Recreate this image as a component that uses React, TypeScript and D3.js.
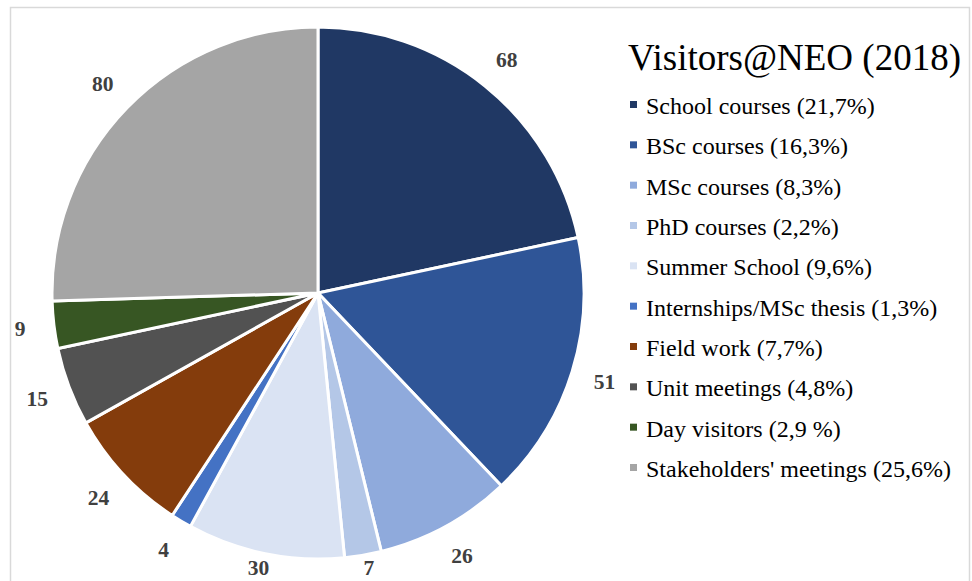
import React from "react";
import * as d3 from "d3";

const categories = [
  "School courses (21,7%)",
  "BSc courses (16,3%)",
  "MSc courses (8,3%)",
  "PhD courses (2,2%)",
  "Summer School (9,6%)",
  "Internships/MSc thesis (1,3%)",
  "Field work (7,7%)",
  "Unit meetings (4,8%)",
  "Day visitors (2,9 %)",
  "Stakeholders' meetings (25,6%)",
];
const values = [68, 51, 26, 7, 30, 4, 24, 15, 9, 80];
const colors = [
  "#203864",
  "#2f5597",
  "#8faadc",
  "#b4c7e7",
  "#dae3f3",
  "#4472c4",
  "#843c0c",
  "#525252",
  "#375623",
  "#a5a5a5",
];
const title = "Visitors@NEO (2018)";

export default function App() {
  const W = 972;
  const H = 581;
  const cx = 318;
  const cy = 293;
  const r = 266;
  const labelR = 300;
  const pie = d3.pie<number>().sort(null).value((d) => d)(values);
  const arc = d3.arc<d3.PieArcDatum<number>>().innerRadius(0).outerRadius(r);
  const labelArc = d3
    .arc<d3.PieArcDatum<number>>()
    .innerRadius(labelR)
    .outerRadius(labelR);
  const font = "'Liberation Serif', 'Times New Roman', serif";
  const legendY = d3.scaleLinear().domain([0, categories.length - 1]).range([105, 468]);

  return (
    <svg
      width={W}
      height={H}
      style={{ position: "absolute", left: 0, top: 0, background: "#fff" }}
    >
      <rect x={10.5} y={7.5} width={959} height={600} fill="#fff" stroke="#d9d9d9" strokeWidth={1.5} />
      <g transform={`translate(${cx},${cy})`}>
        {pie.map((p, i) => (
          <path key={i} d={arc(p) || ""} fill={colors[i]} stroke="#fff" strokeWidth={3} strokeLinejoin="round" />
        ))}
        {pie.map((p, i) => {
          const [lx, ly] = labelArc.centroid(p);
          const y = Math.min(ly, 568 - cy);
          return (
            <text
              key={i}
              x={lx}
              y={y}
              textAnchor="middle"
              dominantBaseline="central"
              fontFamily={font}
              fontWeight="bold"
              fontSize={21.5}
              fill="#404040"
            >
              {values[i]}
            </text>
          );
        })}
      </g>
      <text x={628} y={70} fontFamily={font} fontSize={37} fill="#000">
        {title}
      </text>
      {categories.map((c, i) => (
        <g key={i} transform={`translate(0,${legendY(i)})`}>
          <rect x={630} y={-4} width={7} height={7} fill={colors[i]} />
          <text x={646} y={1} dominantBaseline="central" fontFamily={font} fontSize={24} fill="#000">
            {c}
          </text>
        </g>
      ))}
    </svg>
  );
}
